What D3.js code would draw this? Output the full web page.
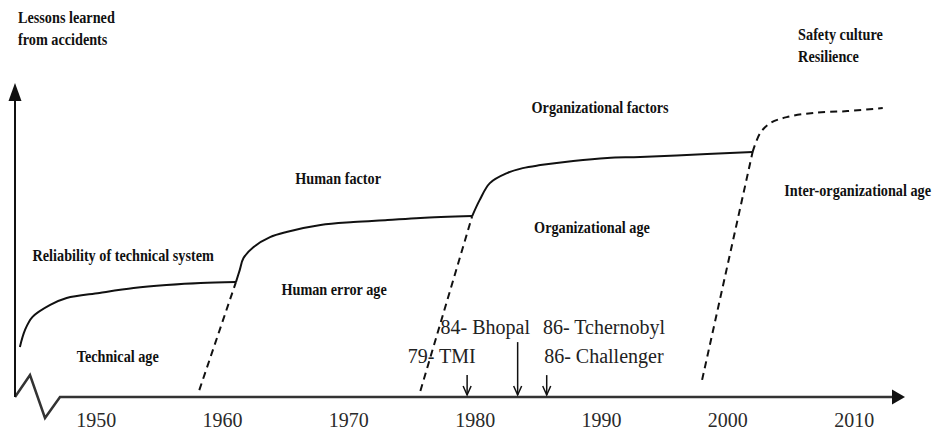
<!DOCTYPE html>
<html>
<head>
<meta charset="utf-8">
<script src="https://cdn.jsdelivr.net/npm/d3@7"></script>
<style>
  body { margin: 0; background: #fff; }
  svg { display: block; }
  .lbl { font-family: "Liberation Serif", "Times New Roman", serif; font-weight: bold; font-size: 16px; fill: #111; }
  .ev  { font-family: "Liberation Serif", "Times New Roman", serif; font-size: 20px; fill: #222; }
  .tick text { font-family: "Liberation Serif", "Times New Roman", serif; font-size: 20px; fill: #2a2a2a; }
</style>
</head>
<body>
<div id="chart"></div>
<script>
// decades on the time axis
var years = [1950, 1960, 1970, 1980, 1990, 2000, 2010];

// solid curves: [year, level], level 0..100 = lessons learned
var technicalAge = [[1944.0,16.7],[1944.4,22.3],[1945.0,26.7],[1946.4,30.7],[1947.7,33.0],[1950.3,34.7],
                    [1953.0,36.3],[1955.6,37.3],[1958.3,38.0],[1961.1,38.3]];
var humanErrorAge = [[1961.1,38.3],[1961.4,42.3],[1961.7,46.3],[1962.5,50.0],[1963.8,53.3],[1965.1,55.0],
                     [1967.8,57.3],[1970.4,58.3],[1973.1,59.0],[1975.7,59.7],[1979.8,60.3]];
var organizationalAge = [[1979.8,60.3],[1980.4,65.7],[1981.2,71.3],[1982.6,74.7],[1983.8,76.3],[1985.2,77.3],
                         [1987.8,78.7],[1990.5,79.7],[1993.1,80.0],[1998.4,81.0],[2002.0,81.7]];
// dashed curve (future)
var interOrgAge = [[2002.0,81.7],[2002.6,88.0],[2003.4,91.3],[2004.7,93.3],[2006.8,94.7],[2009.5,95.3],[2012.3,96.3]];

// dashed boundaries between ages
var transitions = [
  [[1958.2,2.3],[1961.1,38.3]],
  [[1975.7,2.0],[1979.8,60.3]],
  [[1998.0,5.7],[2002.0,81.7]]
];

// accidents marked on the time axis
var events = [
  {name: "79- TMI",        at: 1979.4, top: 7.3},
  {name: "84- Bhopal",     at: 1983.4, top: 18.3},
  {name: "86- Challenger", at: 1985.7, top: 7.3}
];

// text notes: [text, year, level, class]
var notes = [
  ["Lessons learned", 1943.85, 124.7, "lbl"],
  ["from accidents", 1943.85, 117.3, "lbl"],
  ["Safety culture", 2005.6, 119.0, "lbl"],
  ["Resilience", 2005.6, 111.7, "lbl"],
  ["Organizational factors", 1984.5, 94.7, "lbl"],
  ["Human factor", 1965.8, 71.0, "lbl"],
  ["Reliability of technical system", 1945.0, 45.3, "lbl"],
  ["Human error age", 1964.7, 34.0, "lbl"],
  ["Technical age", 1948.5, 11.7, "lbl"],
  ["Organizational age", 1984.7, 54.7, "lbl"],
  ["Inter-organizational age", 2004.5, 67.0, "lbl"],
  ["84- Bhopal", 1977.3, 21.0, "ev"],
  ["86- Tchernobyl", 1985.4, 21.0, "ev"],
  ["79- TMI", 1974.7, 11.3, "ev"],
  ["86- Challenger", 1985.5, 11.3, "ev"]
];

var width = 935, height = 434;
var originX = 15, axisY = 397, axisEnd = 905;
var condense = 0.89;   // bold labels are a narrow face

var svg = d3.select("#chart").append("svg")
    .attr("width", width)
    .attr("height", height);

var x = d3.scaleLinear().domain([1950, 2010]).range([95.7, 853.7]);
var y = d3.scaleLinear().domain([0, 100]).range([axisY, axisY - 300]);

// axis line with the broken start
svg.append("path")
    .attr("d", "M" + originX + "," + axisY +
               "L" + (originX + 15) + "," + (axisY - 22) +
               "L" + (originX + 30) + "," + (axisY + 21) +
               "L" + (originX + 45) + "," + axisY +
               "L" + (axisEnd - 12) + "," + axisY)
    .attr("fill", "none")
    .attr("stroke", "#333")
    .attr("stroke-width", 2.5);
svg.append("path")
    .attr("d", "M" + axisEnd + "," + axisY + "l-13,-7.5l0,15z")
    .attr("fill", "#111");

// vertical axis
svg.append("line")
    .attr("x1", originX).attr("y1", axisY)
    .attr("x2", originX).attr("y2", 100)
    .attr("stroke", "#111")
    .attr("stroke-width", 2);
svg.append("path")
    .attr("d", "M" + originX + ",83l-6.5,18l13,0z")
    .attr("fill", "#111");

// year labels
svg.append("g")
    .attr("transform", "translate(0," + axisY + ")")
    .call(d3.axisBottom(x).tickValues(years).tickFormat(d3.format("d")).tickSize(0).tickPadding(16))
    .call(g => g.select(".domain").remove());

var line = d3.line()
    .x(d => x(d[0]))
    .y(d => y(d[1]))
    .curve(d3.curveCatmullRom.alpha(0.5));

[technicalAge, humanErrorAge, organizationalAge].forEach(function(seg) {
  svg.append("path")
      .datum(seg)
      .attr("d", line)
      .attr("fill", "none")
      .attr("stroke", "#111")
      .attr("stroke-width", 2);
});

svg.append("path")
    .datum(interOrgAge)
    .attr("d", line)
    .attr("fill", "none")
    .attr("stroke", "#111")
    .attr("stroke-width", 2)
    .attr("stroke-dasharray", "7,5");

var straight = d3.line().x(d => x(d[0])).y(d => y(d[1]));
svg.selectAll(".trans")
    .data(transitions)
  .enter().append("path")
    .attr("class", "trans")
    .attr("d", straight)
    .attr("fill", "none")
    .attr("stroke", "#111")
    .attr("stroke-width", 2)
    .attr("stroke-dasharray", "7,5");

// accident arrows
var ev = svg.selectAll(".evarrow")
    .data(events)
  .enter().append("g")
    .attr("class", "evarrow");
ev.append("line")
    .attr("x1", d => x(d.at)).attr("x2", d => x(d.at))
    .attr("y1", d => y(d.top)).attr("y2", axisY - 2)
    .attr("stroke", "#111")
    .attr("stroke-width", 1.5);
ev.append("path")
    .attr("d", d => "M" + (x(d.at) - 4) + "," + (axisY - 11) + "L" + x(d.at) + "," + (axisY - 2) + "L" + (x(d.at) + 4) + "," + (axisY - 11))
    .attr("fill", "none")
    .attr("stroke", "#111")
    .attr("stroke-width", 1.5);

svg.selectAll(".note")
    .data(notes)
  .enter().append("text")
    .attr("class", d => d[3])
    .attr("transform", d => "translate(" + x(d[1]) + "," + y(d[2]) + ")" + (d[3] === "lbl" ? " scale(" + condense + ",1)" : ""))
    .text(d => d[0]);
</script>
</body>
</html>
